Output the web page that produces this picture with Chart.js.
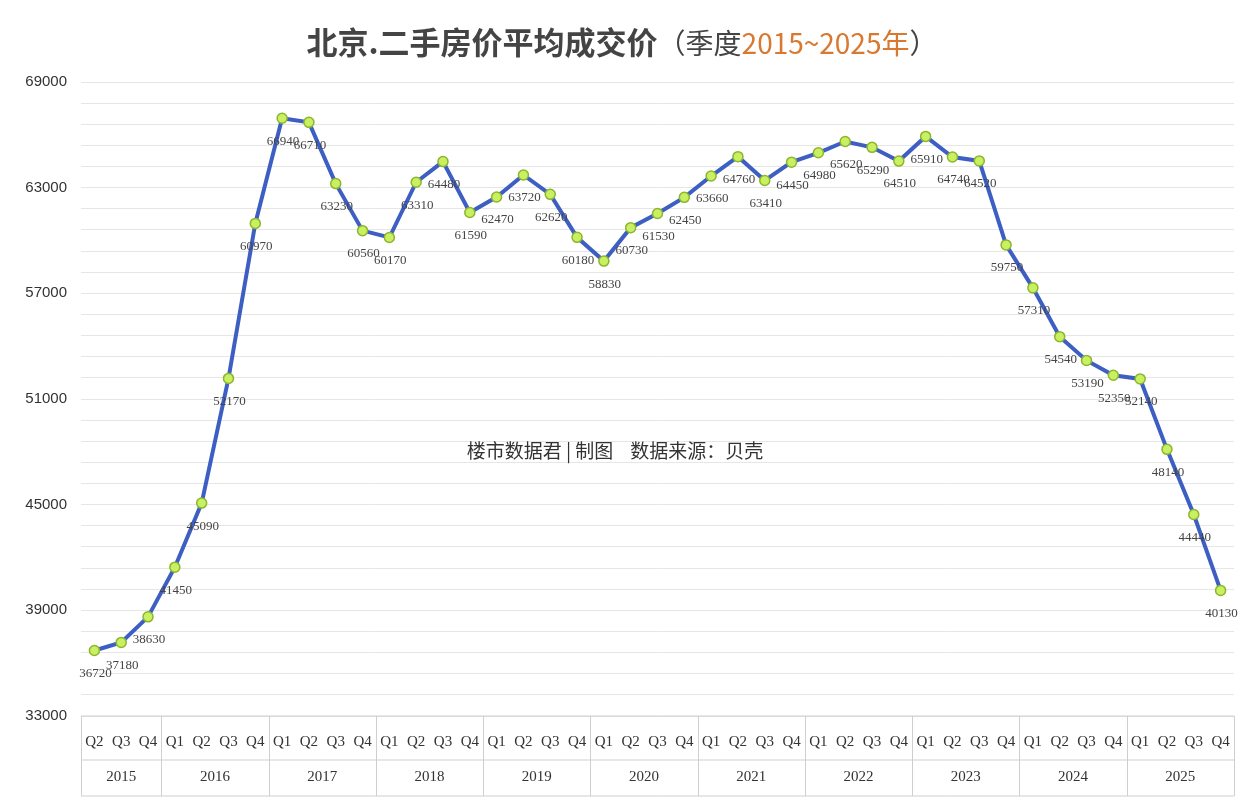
<!DOCTYPE html>
<html><head><meta charset="utf-8">
<script src="https://cdn.jsdelivr.net/npm/chart.js@4"></script>
<style>
html,body{margin:0;padding:0;background:#fff;}
#wrap{position:relative;width:1244px;height:800px;}
#title{position:absolute;top:18px;left:0;width:1244px;text-align:center;font-family:"Noto Sans CJK SC";font-size:31px;font-weight:bold;color:#444;}
#title .n{font-weight:normal;font-size:28px;}
#title .o{color:#d9782e;font-weight:normal;font-size:28px;}
</style></head><body>
<div id="wrap">
<div id="title">北京.二手房价平均成交价<span class="n">（季度</span><span class="o">2015~2025年</span><span class="n">）</span></div>
<canvas id="c" width="1244" height="800"></canvas>
</div>
<script>
const quarters = ["Q2","Q3","Q4","Q1","Q2","Q3","Q4","Q1","Q2","Q3","Q4","Q1","Q2","Q3","Q4","Q1","Q2","Q3","Q4","Q1","Q2","Q3","Q4","Q1","Q2","Q3","Q4","Q1","Q2","Q3","Q4","Q1","Q2","Q3","Q4","Q1","Q2","Q3","Q4","Q1","Q2","Q3","Q4"];
const years = ["2015","2016","2017","2018","2019","2020","2021","2022","2023","2024","2025"];
const yearCounts = [3,4,4,4,4,4,4,4,4,4,4];
const prices = [36720,37180,38630,41450,45090,52170,60970,66940,66710,63230,60560,60170,63310,64480,61590,62470,63720,62620,60180,58830,60730,61530,62450,63660,64760,63410,64450,64980,65620,65290,64510,65910,64740,64520,59750,57310,54540,53190,52350,52140,48140,44440,40130];

const extra = {
  id:'extra',
  afterDatasetsDraw(chart){
    const ctx = chart.ctx, x = chart.scales.x, a = chart.chartArea;
    const meta = chart.getDatasetMeta(0);
    ctx.save();
    ctx.font = '13px "Liberation Serif"';
    ctx.fillStyle = '#444'; ctx.textAlign='center'; ctx.textBaseline='middle';
    meta.data.forEach((p,i)=>{ ctx.fillText(prices[i], p.x+1, p.y+23); });
    ctx.font = '19px "Noto Sans CJK SC"'; ctx.fillStyle='#333';
    ctx.fillText('楼市数据君 | 制图    数据来源：贝壳', 615, 451);
    const top=a.bottom, mid=760, bot=796;
    ctx.strokeStyle='#cfcfcf'; ctx.lineWidth=1;
    ctx.beginPath();
    ctx.moveTo(a.left,top); ctx.lineTo(a.right,top);
    ctx.moveTo(a.left,mid); ctx.lineTo(a.right,mid);
    ctx.moveTo(a.left,bot); ctx.lineTo(a.right,bot);
    const w = (a.right-a.left)/prices.length;
    let idx=0;
    ctx.moveTo(a.left+0.5,top); ctx.lineTo(a.left+0.5,bot);
    yearCounts.forEach(c=>{ idx+=c; const xx=Math.round(a.left+idx*w)+0.5; ctx.moveTo(xx,top); ctx.lineTo(xx,bot); });
    ctx.stroke();
    ctx.font='15px "Liberation Serif"'; ctx.fillStyle='#333';
    quarters.forEach((q,i)=>ctx.fillText(q, x.getPixelForValue(i), 742));
    idx=0;
    yearCounts.forEach((c,k)=>{ const cx=a.left+(idx+c/2)*w; ctx.fillText(years[k], cx, 777); idx+=c; });
    ctx.restore();
  }
};

new Chart(document.getElementById('c'),{
  type:'line',
  data:{labels:quarters.map((q,i)=>i),datasets:[{data:prices,borderColor:'#3d5fc4',borderWidth:4,tension:0,
    pointRadius:5,pointBackgroundColor:'#c8f060',pointBorderColor:'#8db52e',pointBorderWidth:1.5}]},
  options:{responsive:false,animation:false,
    layout:{padding:{top:82,bottom:84,right:10,left:0}},
    plugins:{legend:{display:false},tooltip:{enabled:false}},
    scales:{
      x:{offset:true,ticks:{display:false},grid:{display:false},border:{display:false},afterFit:s=>{s.height=0;}},
      y:{min:33000,max:69000,afterFit:s=>{s.width=81;},
        ticks:{stepSize:1200,autoSkip:false,color:'#333',padding:14,font:{size:15,family:'Liberation Sans'},
          callback:v=>((v-33000)%6000===0?v:'')},
        grid:{color:'#e6e6e6',drawTicks:false},border:{display:false}}
    }},
  plugins:[extra]
});
</script>
</body></html>
